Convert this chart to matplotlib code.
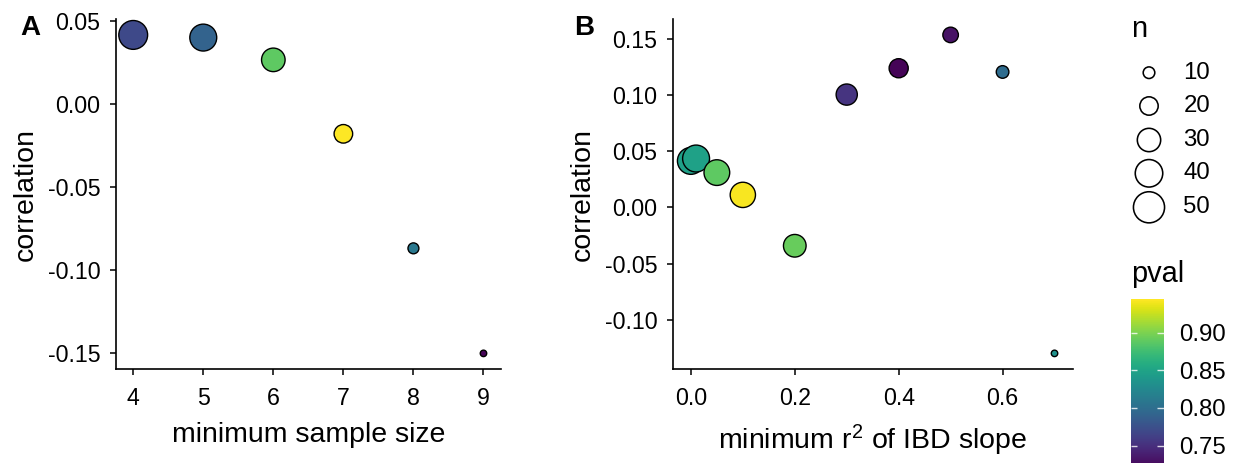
import numpy as np
import matplotlib
matplotlib.use("Agg")
import matplotlib.pyplot as plt
from matplotlib.colors import Normalize

plt.rcParams['font.family'] = ['Liberation Sans', 'DejaVu Sans']
plt.rcParams['mathtext.fontset'] = 'custom'
plt.rcParams['mathtext.rm'] = 'Liberation Sans'
plt.rcParams['mathtext.it'] = 'Liberation Sans'
plt.rcParams['mathtext.default'] = 'rm'

# ---------------- data ----------------
a_min_sample = [4, 5, 6, 7, 8, 9]
a_corr = [0.0416, 0.0400, 0.0266, -0.0179, -0.0868, -0.1500]
a_n = [43, 38, 30, 20, 9, 5]
a_pval = [0.769, 0.790, 0.888, 0.944, 0.810, 0.722]

b_min_r2 = [0.0, 0.01, 0.05, 0.1, 0.2, 0.3, 0.4, 0.5, 0.6, 0.7]
b_corr = [0.0414, 0.0435, 0.0310, 0.0112, -0.0340, 0.1003, 0.1237, 0.1533, 0.1204, -0.1296]
b_n = [38, 38, 35, 34, 28, 25, 21, 15, 11, 5]
b_pval = [0.846, 0.848, 0.888, 0.942, 0.892, 0.754, 0.722, 0.731, 0.798, 0.834]

legend_n = [10, 20, 30, 40, 50]
cbar_ticks = [0.75, 0.80, 0.85, 0.90]
cbar_labels = ["0.75", "0.80", "0.85", "0.90"]
pval_limits = (0.720, 0.944)

a_yticks = [0.05, 0.00, -0.05, -0.10, -0.15]
a_ylabels = ["0.05", "0.00", "-0.05", "-0.10", "-0.15"]
b_yticks = [0.15, 0.10, 0.05, 0.00, -0.05, -0.10]
b_ylabels = ["0.15", "0.10", "0.05", "0.00", "-0.05", "-0.10"]
b_xticks = [0.0, 0.2, 0.4, 0.6]
b_xlabels = ["0.0", "0.2", "0.4", "0.6"]

# ---------------- figure ----------------
W, H, DPI = 1241, 463, 100
fig = plt.figure(figsize=(W / DPI, H / DPI), dpi=DPI)
PX2PT = 72.0 / DPI
EDGE_LW = 1.0


def size_of(n, lw=EDGE_LW):
    n = np.asarray(n, dtype=float)
    dvis = np.sqrt(np.clip(-50 + 22.4 * n, 1, None))  # visual diameter in px
    dpt = (dvis - lw / PX2PT) * PX2PT
    return dpt ** 2


def frac_box(l, t, r, b):
    return [l / W, (H - b) / H, (r - l) / W, (b - t) / H]


def expand(vals, f=0.05):
    lo, hi = min(vals), max(vals)
    d = (hi - lo) * f
    return lo - d, hi + d


cmap = plt.get_cmap('viridis')
norm = Normalize(*pval_limits)

TICK_FS = 16.7
LAB_FS = 20.5


def style(ax):
    for s in ['top', 'right']:
        ax.spines[s].set_visible(False)
    for s in ['left', 'bottom']:
        ax.spines[s].set_linewidth(1.2)
    ax.tick_params(width=1.1, length=4.2, labelsize=TICK_FS, colors='black')
    ax.tick_params(axis='x', pad=8.5)
    ax.tick_params(axis='y', pad=7)


axA = fig.add_axes(frac_box(115.7, 19, 501, 369.3))
axA.scatter(a_min_sample, a_corr, s=size_of(a_n), c=a_pval,
            cmap=cmap, norm=norm, edgecolors='black', linewidths=EDGE_LW, zorder=3)
axA.set_xlim(*expand(a_min_sample))
axA.set_ylim(*expand(a_corr))
axA.set_xticks(a_min_sample)
axA.set_yticks(a_yticks)
axA.set_yticklabels(a_ylabels)
style(axA)
axA.set_xlabel("minimum sample size", fontsize=LAB_FS, labelpad=9)
axA.set_ylabel("correlation", fontsize=LAB_FS, labelpad=6.5)

axB = fig.add_axes(frac_box(672.7, 19, 1072.7, 369.3))
axB.scatter(b_min_r2, b_corr, s=size_of(b_n), c=b_pval,
            cmap=cmap, norm=norm, edgecolors='black', linewidths=EDGE_LW, zorder=3)
axB.set_xlim(*expand(b_min_r2))
axB.set_ylim(*expand(b_corr))
axB.set_xticks(b_xticks)
axB.set_xticklabels(b_xlabels)
axB.set_yticks(b_yticks)
axB.set_yticklabels(b_ylabels)
style(axB)
axB.set_xlabel(r"minimum r$^{2}$ of IBD slope", fontsize=LAB_FS, labelpad=9)
axB.set_ylabel("correlation", fontsize=LAB_FS, labelpad=6.5)

fig.text(30 / W, 1 - 28 / H, "A", fontsize=20, fontweight='bold', ha='center', va='center')
fig.text(583.7 / W, 1 - 28 / H, "B", fontsize=20, fontweight='bold', ha='center', va='center')

# ---------------- size legend ----------------
lax = fig.add_axes([0, 0, 1, 1], zorder=-1)
lax.set_xlim(0, W)
lax.set_ylim(H, 0)
lax.axis('off')
leg_y = [72.7, 106, 140, 173.3, 207.3]
LEG_LW = 1.15
lax.scatter([1149] * len(legend_n), leg_y, s=size_of(legend_n, LEG_LW), facecolors='none',
            edgecolors='black', linewidths=LEG_LW)
for yy, n in zip(leg_y, legend_n):
    lax.text(1183.3, yy, str(n), fontsize=17.3, ha='left', va='center')
lax.text(1131.5, 37, "n", fontsize=20.9, ha='left', va='baseline')
lax.text(1131.5, 282, "pval", fontsize=20.9, ha='left', va='baseline')

# ---------------- colour bar ----------------
top_px = 299.3
tick_px_per_unit = 37.7 / 0.05
bottom_px = 445.7 + (0.75 - pval_limits[0]) * tick_px_per_unit
cax = fig.add_axes(frac_box(1130.7, top_px, 1164, bottom_px))
sm = plt.cm.ScalarMappable(norm=norm, cmap=cmap)
cb = fig.colorbar(sm, cax=cax)
cb.outline.set_visible(False)
cb.set_ticks(cbar_ticks)
cb.set_ticklabels(cbar_labels)
cax.tick_params(length=0, labelsize=17.3, pad=11)
cax.hlines(cbar_ticks, 0, 0.2, colors='white', linewidth=1.0, alpha=0.8, transform=cax.get_yaxis_transform())
cax.hlines(cbar_ticks, 0.8, 1.0, colors='white', linewidth=1.0, alpha=0.8, transform=cax.get_yaxis_transform())

fig.savefig("out.png", dpi=DPI)
